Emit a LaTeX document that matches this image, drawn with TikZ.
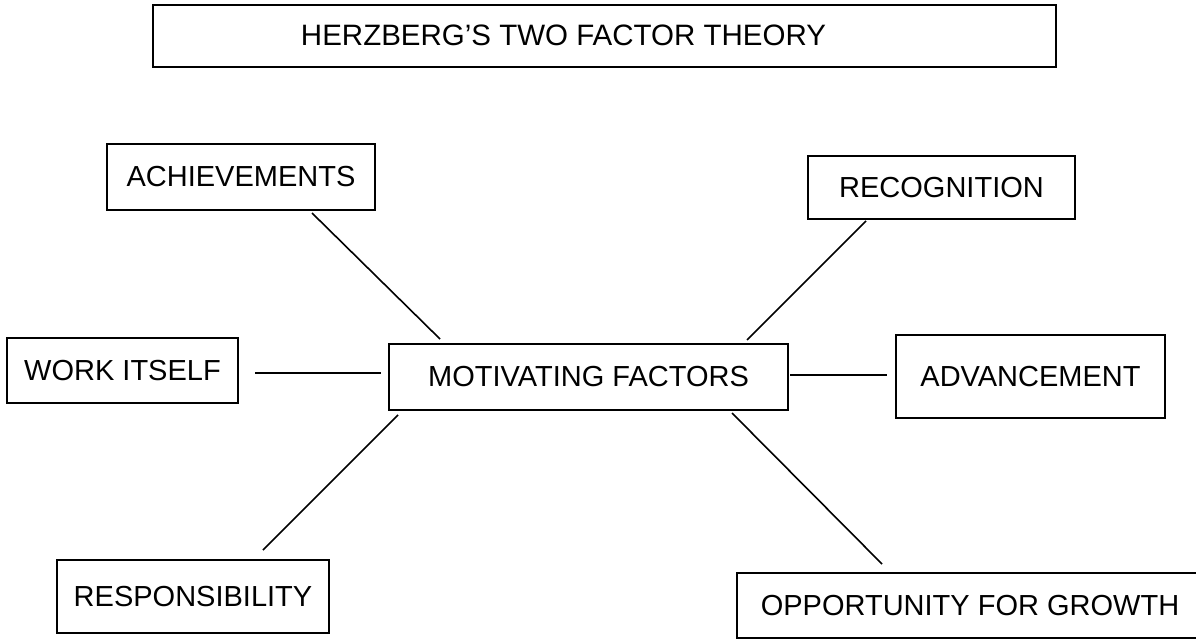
\documentclass[tikz,border=0pt]{standalone}
\usepackage{fontspec}
\setmainfont{Liberation Sans}
\begin{document}
\begin{tikzpicture}[x=1pt,y=-1pt,
  box/.style={draw=black,line width=1.8pt,inner sep=0pt,rectangle,
    font=\fontsize{29}{34}\selectfont},
  link/.style={draw=black,line width=1.6pt}]
\useasboundingbox (0,0) rectangle (1196,639);
\clip (0,0) rectangle (1196,639);
\fill[white] (0,0) rectangle (1196,639);
% boxes: center at ((l+r)/2,(t+b)/2), size (r-l) x (b-t)
\node[box,minimum width=903pt,minimum height=62pt] (title) at (604.5,36) {};
\node[font=\fontsize{29.5}{34}\selectfont,inner sep=0pt] (titletext) at (563.5,35) {HERZBERG’S TWO FACTOR THEORY};
\node[box,minimum width=268pt,minimum height=66pt] (ach) at (241,177) {ACHIEVEMENTS};
\node[box,minimum width=267pt,minimum height=63pt] (rec) at (941.5,187.5) {RECOGNITION};
\node[box,minimum width=231pt,minimum height=65pt] (work) at (122.5,370.5) {WORK ITSELF};
\node[box,minimum width=399pt,minimum height=66pt] (mot) at (588.5,377) {MOTIVATING FACTORS};
\node[box,minimum width=269pt,minimum height=83pt] (adv) at (1030.5,376.5) {ADVANCEMENT};
\node[box,minimum width=272pt,minimum height=73pt] (resp) at (193,596.5) {RESPONSIBILITY};
\node[box,minimum width=466pt,minimum height=65pt] (opp) at (970,605.5) {OPPORTUNITY FOR GROWTH};
% connector end points
\coordinate (a1) at (312,213); \coordinate (a2) at (440,339);
\coordinate (r1) at (866,221); \coordinate (r2) at (747,340);
\coordinate (w1) at (255,373); \coordinate (w2) at (381,373);
\coordinate (d1) at (790,375); \coordinate (d2) at (887,375);
\coordinate (s1) at (398,415); \coordinate (s2) at (263,550);
\coordinate (o1) at (732,413); \coordinate (o2) at (882,564);
\draw[link] (a1) -- (a2);
\draw[link] (r1) -- (r2);
\draw[link] (w1) -- (w2);
\draw[link] (d1) -- (d2);
\draw[link] (s1) -- (s2);
\draw[link] (o1) -- (o2);
\end{tikzpicture}
\end{document}
